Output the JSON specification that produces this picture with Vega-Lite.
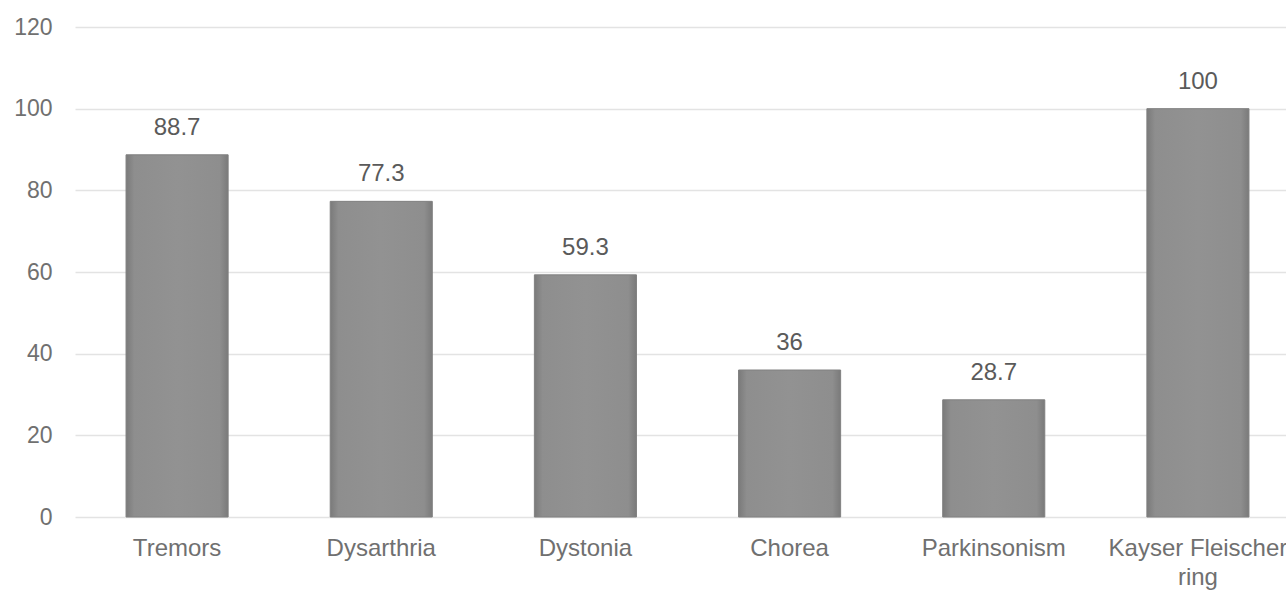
{
  "$schema": "https://vega.github.io/schema/vega-lite/v6.json",
  "autosize": "none",
  "padding": {"left": 75, "top": 27, "right": 0, "bottom": 74},
  "width": 1225,
  "height": 490,
  "background": "white",
  "config": {"view": {"stroke": null}, "font": "Liberation Sans"},
  "data": {"values": [
    {"symptom": "Tremors", "value": 88.7},
    {"symptom": "Dysarthria", "value": 77.3},
    {"symptom": "Dystonia", "value": 59.3},
    {"symptom": "Chorea", "value": 36},
    {"symptom": "Parkinsonism", "value": 28.7},
    {"symptom": "Kayser Fleischer ring", "value": 100}
  ]},
  "encoding": {
    "x": {"field": "symptom", "type": "nominal", "sort": null,
      "scale": {"paddingInner": 0.5, "paddingOuter": 0.25},
      "axis": {"title": null, "labelAngle": 0, "domain": false, "ticks": false,
        "labelFontSize": 24, "labelColor": "#707070", "labelPadding": 19,
        "labelLimit": 0, "labelLineHeight": 29, "labelBaseline": "top",
        "labelExpr": "datum.label == 'Kayser Fleischer ring' ? ['Kayser Fleischer', 'ring'] : datum.label"}},
    "y": {"field": "value", "type": "quantitative",
      "scale": {"domain": [0, 120]},
      "axis": {"title": null, "values": [0, 20, 40, 60, 80, 100, 120], "domain": false, "ticks": false,
        "labelFontSize": 23, "labelColor": "#707070", "labelPadding": 23,
        "gridColor": "#e3e3e3", "gridWidth": 1.5}}
  },
  "layer": [
    {"mark": {"type": "bar",
      "fill": {"gradient": "linear", "x1": 0, "x2": 1, "y1": 0, "y2": 0,
        "stops": [
          {"offset": 0, "color": "#7a7a7a"},
          {"offset": 0.08, "color": "#8e8e8e"},
          {"offset": 0.5, "color": "#929292"},
          {"offset": 0.92, "color": "#8e8e8e"},
          {"offset": 1, "color": "#7a7a7a"}
        ]},
      "stroke": "#808080", "strokeWidth": 1}},
    {"mark": {"type": "text", "dy": -20, "baseline": "alphabetic", "fontSize": 24, "color": "#5a5a5a"},
      "encoding": {"text": {"field": "value", "type": "quantitative"}}}
  ]
}
